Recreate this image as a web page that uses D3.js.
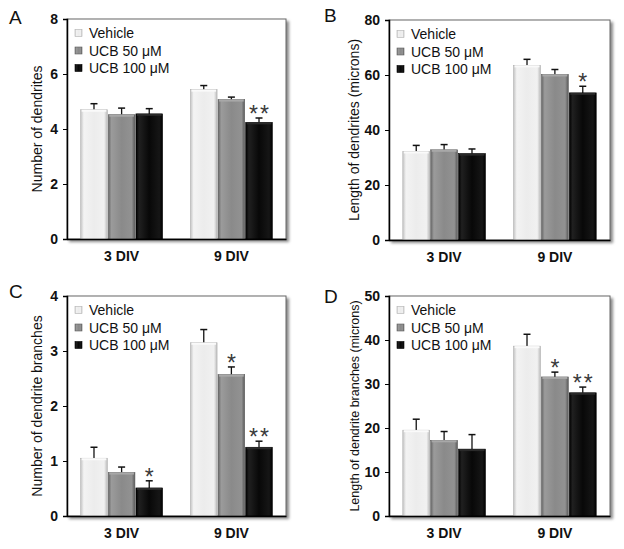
<!DOCTYPE html>
<html><head><meta charset="utf-8">
<script src="https://cdn.jsdelivr.net/npm/d3@7"></script>
<style>body{margin:0;background:#fff}svg{display:block;font-family:Arial,"Liberation Sans",sans-serif}</style>
</head><body><svg id="c" width="624" height="549"></svg>
<script>
const categories = ["3 DIV", "9 DIV"];
const seriesNames = ["Vehicle", "UCB 50 μM", "UCB 100 μM"];

// Panel A: Number of dendrites
const aMean = [[4.70, 5.43], [4.52, 5.07], [4.55, 4.24]];
const aErr  = [[0.22, 0.15], [0.24, 0.09], [0.19, 0.16]];
const aSig  = [["", ""], ["", ""], ["", "**"]];
const aTicks = [0, 2, 4, 6, 8];

// Panel B: Length of dendrites (microns)
const bMean = [[32.2, 63.5], [32.8, 60.2], [31.4, 53.5]];
const bErr  = [[2.2, 2.2], [1.9, 1.8], [1.7, 2.4]];
const bSig  = [["", ""], ["", ""], ["", "*"]];
const bTicks = [0, 20, 40, 60, 80];

// Panel C: Number of dendrite branches
const cMean = [[1.05, 3.15], [0.79, 2.57], [0.51, 1.25]];
const cErr  = [[0.20, 0.24], [0.10, 0.14], [0.13, 0.11]];
const cSig  = [["", ""], ["", "*"], ["*", "**"]];
const cTicks = [0, 1, 2, 3, 4];

// Panel D: Length of dendrite branches (microns)
const dMean = [[19.5, 38.6], [17.2, 31.6], [15.2, 28.0]];
const dErr  = [[2.5, 2.7], [2.0, 1.1], [3.3, 1.3]];
const dSig  = [["", ""], ["", "*"], ["", "**"]];
const dTicks = [0, 10, 20, 30, 40, 50];

const svg = d3.select("#c");
const defs = svg.append("defs");
const gradStops = [
  [["0", "#c4c4c4"], ["0.12", "#f3f3f3"], ["0.5", "#ececec"], ["0.88", "#f1f1f1"], ["1", "#bcbcbc"]],
  [["0", "#666"], ["0.12", "#9b9b9b"], ["0.5", "#8a8a8a"], ["0.88", "#929292"], ["1", "#5a5a5a"]],
  [["0", "#000"], ["0.12", "#202020"], ["0.5", "#080808"], ["0.88", "#161616"], ["1", "#000"]]
];
gradStops.forEach((st, i) => {
  const g = defs.append("linearGradient").attr("id", "g" + i).attr("x1", 0).attr("x2", 1).attr("y1", 0).attr("y2", 0);
  st.forEach(s => g.append("stop").attr("offset", s[0]).attr("stop-color", s[1]));
});
defs.append("filter").attr("id", "blur").attr("x", "-10%").attr("y", "-10%").attr("width", "120%").attr("height", "120%")
  .append("feGaussianBlur").attr("stdDeviation", 1.6);
const strokes = ["#b0b0b0", "#5e5e5e", "#000"];

const panels = [
  {L: "A", mean: aMean, err: aErr, sig: aSig, ticks: aTicks, title: "Number of dendrites",
   x0: 67, x1: 286, y0: 19, y1: 239, lx: 9, ly: 24, tx: 42, ts: 14},
  {L: "B", mean: bMean, err: bErr, sig: bSig, ticks: bTicks, title: "Length of dendrites (microns)",
   x0: 389, x1: 610, y0: 20, y1: 240, lx: 324, ly: 22, tx: 359, ts: 14},
  {L: "C", mean: cMean, err: cErr, sig: cSig, ticks: cTicks, title: "Number of dendrite branches",
   x0: 67, x1: 286, y0: 296, y1: 516, lx: 9, ly: 298, tx: 42, ts: 14},
  {L: "D", mean: dMean, err: dErr, sig: dSig, ticks: dTicks, title: "Length of dendrite branches (microns)",
   x0: 389, x1: 610, y0: 296, y1: 516, lx: 324, ly: 303, tx: 359, ts: 12.5}
];

panels.forEach(p => {
  const g = svg.append("g");
  const yMax = p.ticks[p.ticks.length - 1];
  const y = d3.scaleLinear().domain([0, yMax]).range([p.y1, p.y0]);
  const x = d3.scaleBand().domain(categories).range([p.x0, p.x1]).paddingInner(0.245).paddingOuter(0.12);
  const xs = d3.scaleBand().domain(seriesNames).range([0, x.bandwidth()]).padding(0);

  // frame shadow + box
  g.append("rect").attr("x", p.x0 + 2).attr("y", p.y0 + 2).attr("width", p.x1 - p.x0 + 1).attr("height", p.y1 - p.y0 + 1)
    .attr("fill", "#8a8a8a").attr("filter", "url(#blur)");
  g.append("rect").attr("x", p.x0).attr("y", p.y0).attr("width", p.x1 - p.x0).attr("height", p.y1 - p.y0)
    .attr("fill", "#fff").attr("stroke", "#666").attr("stroke-width", 1);

  // bars
  seriesNames.forEach((s, si) => {
    categories.forEach((c, ci) => {
      const v = p.mean[si][ci], e = p.err[si][ci];
      const bx = x(c) + xs(s), bw = xs.bandwidth();
      const cx = bx + bw / 2;
      // error bar (up only)
      g.append("line").attr("x1", cx).attr("x2", cx).attr("y1", y(v)).attr("y2", y(v + e)).attr("stroke", "#111").attr("stroke-width", 1.3);
      g.append("line").attr("x1", cx - 3.5).attr("x2", cx + 3.5).attr("y1", y(v + e)).attr("y2", y(v + e)).attr("stroke", "#111").attr("stroke-width", 1.5);
      g.append("rect").attr("x", bx + 0.5).attr("y", y(v)).attr("width", bw - 1).attr("height", p.y1 - y(v))
        .attr("fill", `url(#g${si})`).attr("stroke", strokes[si]).attr("stroke-width", 0.6);
      // slight top rim
      g.append("rect").attr("x", bx + 1.5).attr("y", y(v)).attr("width", bw - 3).attr("height", 2)
        .attr("fill", si === 0 ? "#fafafa" : (si === 1 ? "#a8a8a8" : "#2a2a2a"));
      if (p.sig[si][ci]) {
        g.append("text").attr("x", cx + 1).attr("y", y(v + e) + 4).attr("text-anchor", "middle")
          .attr("font-size", 23).attr("fill", "#3a3a3a").attr("letter-spacing", 2).text(p.sig[si][ci]);
      }
    });
  });

  // axes
  const ya = g.append("g").attr("transform", `translate(${p.x0},0)`)
    .call(d3.axisLeft(y).tickValues(p.ticks).tickSize(4).tickPadding(5).tickFormat(d3.format("d")));
  ya.select(".domain").attr("stroke", "#000").attr("stroke-width", 1.5);
  ya.selectAll(".tick line").attr("stroke", "#000");
  ya.selectAll("text").attr("font-size", 14).attr("font-weight", "bold").attr("fill", "#111")
    .attr("font-family", "Arial, 'Liberation Sans', sans-serif");
  const xa = g.append("g").attr("transform", `translate(0,${p.y1})`)
    .call(d3.axisBottom(x).tickSize(0).tickPadding(12));
  xa.select(".domain").attr("stroke", "#000").attr("stroke-width", 1.5);
  xa.selectAll("text").attr("font-size", 14).attr("font-weight", "bold").attr("fill", "#111")
    .attr("font-family", "Arial, 'Liberation Sans', sans-serif");

  // y title
  g.append("text").attr("transform", `translate(${p.tx},${(p.y0 + p.y1) / 2}) rotate(-90)`)
    .attr("text-anchor", "middle").attr("font-size", p.ts).attr("fill", "#111").text(p.title);

  // panel letter
  g.append("text").attr("x", p.lx).attr("y", p.ly).attr("font-size", 19).attr("fill", "#111").text(p.L);

  // legend
  seriesNames.forEach((s, si) => {
    const ry = p.y0 + 14 + si * 17.5;
    g.append("rect").attr("x", p.x0 + 8).attr("y", ry - 3.5).attr("width", 7).attr("height", 7)
      .attr("fill", `url(#g${si})`).attr("stroke", strokes[si]).attr("stroke-width", 0.6);
    g.append("text").attr("x", p.x0 + 22).attr("y", ry + 5).attr("font-size", 14).attr("fill", "#111").text(s);
  });
});
</script></body></html>
